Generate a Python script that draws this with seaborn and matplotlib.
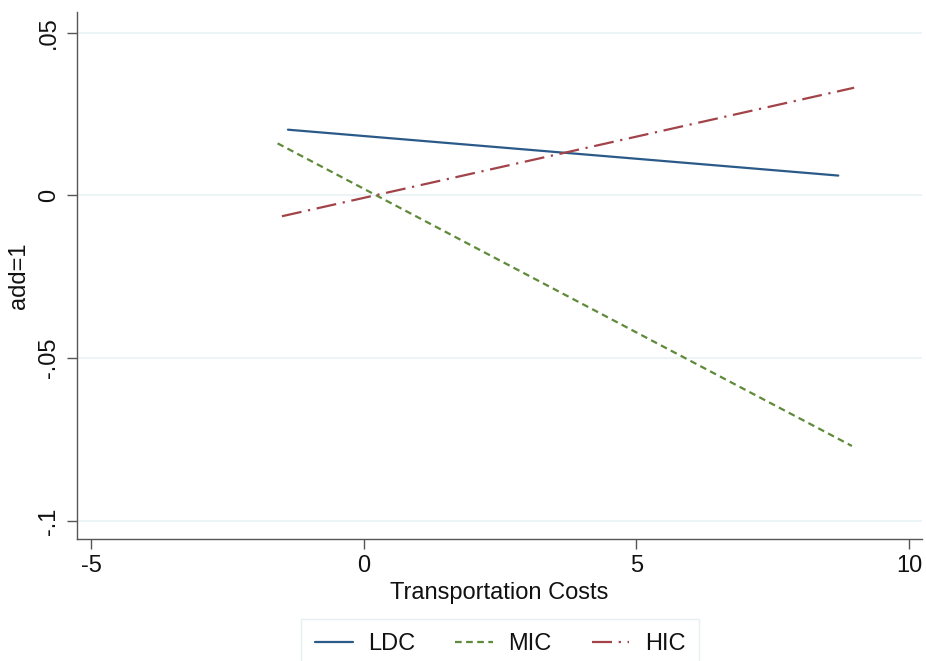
import pandas as pd
import numpy as np
import matplotlib.pyplot as plt
import seaborn as sns

# Fitted lines (endpoints)
groups = ['LDC', 'MIC', 'HIC']
x_start = [-1.39, -1.58, -1.50]
x_end = [8.70, 8.95, 8.99]
y_start = [0.0202, 0.0160, -0.0064]
y_end = [0.0061, -0.0770, 0.0331]

xticks = [-5, 0, 5, 10]
yticks = [-0.1, -0.05, 0, 0.05]
ytick_labels = ['-.1', '-.05', '0', '.05']

rows = []
for g, xs, xe, ys, ye in zip(groups, x_start, x_end, y_start, y_end):
    rows.append({'group': g, 'x': xs, 'y': ys})
    rows.append({'group': g, 'x': xe, 'y': ye})
data = pd.DataFrame(rows)

sns.set_style('white')
plt.rcParams['font.family'] = ['Liberation Sans', 'DejaVu Sans']

colors = {'LDC': '#2a5a87', 'MIC': '#5f8a3a', 'HIC': '#a2434a'}
dashes = {'LDC': '', 'MIC': (3, 2), 'HIC': (9, 3, 1, 3)}

fig = plt.figure(figsize=(9.26, 6.61), dpi=100)
ax = fig.add_axes([0.083, 0.185, 0.913, 0.797])

sns.lineplot(data=data, x='x', y='y', hue='group', style='group',
             palette=colors, dashes=dashes, hue_order=groups,
             style_order=groups, linewidth=1.6, ax=ax, legend=False)

ax.set_xlim(-5.26, 10.24)
ax.set_ylim(-0.1055, 0.0564)
ax.set_xticks(xticks)
ax.set_xticklabels([str(t) for t in xticks], fontsize=17)
ax.set_yticks(yticks)
ax.set_yticklabels(ytick_labels, fontsize=17, rotation=90, va='center')

# stata-style light gridlines
for yv in yticks:
    ax.axhline(yv, color='#eaf2f3', linewidth=1.2, zorder=0)

for side in ['top', 'right']:
    ax.spines[side].set_visible(False)
for side in ['left', 'bottom']:
    ax.spines[side].set_color('#555555')
    ax.spines[side].set_linewidth(1.0)
ax.tick_params(bottom=True, left=True, direction='out', length=7, width=1,
               color='#555555', pad=5, labelcolor='#111111')

ax.set_xlabel('Transportation Costs', fontsize=17, labelpad=3, color='#111111')
ax.set_ylabel('add=1', fontsize=17, labelpad=6, color='#111111')

handles = [plt.Line2D([0], [0], color=colors[g], linewidth=1.6,
                      linestyle='-' if g == 'LDC' else (0, dashes[g]))
           for g in groups]
leg = fig.legend(handles, groups, loc='lower center', ncol=3,
                 bbox_to_anchor=(0.54, -0.03), fontsize=17, frameon=True,
                 fancybox=False, edgecolor='#e3ebed', handlelength=1.6,
                 handletextpad=0.65, columnspacing=1.7, borderpad=0.6)
for t in leg.get_texts():
    t.set_color('#111111')

plt.savefig('out.png', dpi=100)
